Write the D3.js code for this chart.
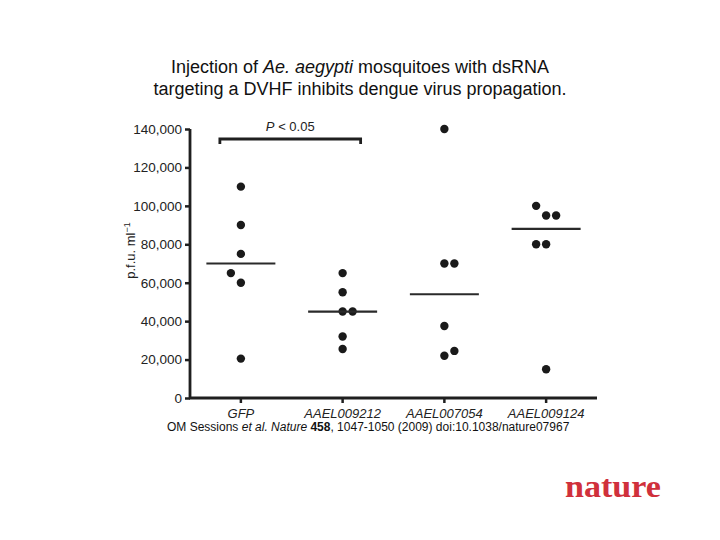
<!DOCTYPE html>
<html>
<head>
<meta charset="utf-8">
<script src="https://cdn.jsdelivr.net/npm/d3@7"></script>
<style>
  html, body { margin: 0; padding: 0; background: #fff; }
  svg { display: block; }
</style>
</head>
<body>
<svg id="chart" width="720" height="540"></svg>
<script>
// ---- data ----
const categories = ["GFP", "AAEL009212", "AAEL007054", "AAEL009124"];
const gfpValues       = [110000, 90000, 75000, 65000, 60000, 20500];
const gfpSlots        = [0, 0, 0, -1, 0, 0];
const aael009212Values = [65000, 55000, 45000, 45000, 32000, 25500];
const aael009212Slots  = [0, 0, 0, 1, 0, 0];
const aael007054Values = [140000, 70000, 70000, 37500, 22000, 24500];
const aael007054Slots  = [0, 0, 1, 0, 0, 1];
const aael009124Values = [100000, 95000, 95000, 80000, 80000, 15000];
const aael009124Slots  = [-1, 0, 1, -1, 0, 0];
const medians = [70000, 45000, 54000, 88000];
const yTicks = [0, 20000, 40000, 60000, 80000, 100000, 120000, 140000];
const seriesValues = [gfpValues, aael009212Values, aael007054Values, aael009124Values];
const seriesSlots = [gfpSlots, aael009212Slots, aael007054Slots, aael009124Slots];

// ---- layout ----
const svg = d3.select("#chart");
const font = "Liberation Sans, Arial, Helvetica, sans-serif";
const ink = "#1f1f1f";

const x = d3.scaleBand().domain(categories).range([190, 597]).paddingInner(0).paddingOuter(0);
const y = d3.scaleLinear().domain([0, 140000]).range([398, 129]);
const slotGap = 10;

// Title
const title = svg.append("text").attr("x", 360).attr("text-anchor", "middle")
  .attr("font-family", font).attr("font-size", 18).attr("fill", "#111");
const t1 = title.append("tspan").attr("x", 360).attr("y", 73);
t1.append("tspan").text("Injection of ");
t1.append("tspan").attr("font-style", "italic").text("Ae. aegypti");
t1.append("tspan").text(" mosquitoes with dsRNA");
title.append("tspan").attr("x", 360).attr("y", 95)
  .text("targeting a DVHF inhibits dengue virus propagation.");

// Y axis
const yAxis = svg.append("g").attr("transform", "translate(190,0)")
  .call(d3.axisLeft(y).tickValues(yTicks).tickSize(5).tickPadding(3)
    .tickFormat(d3.format(",")));
yAxis.select(".domain").attr("stroke", ink).attr("stroke-width", 2.8)
  .attr("d", `M0,${y(140000)}V${y(0)}`);
yAxis.selectAll(".tick line").attr("stroke", ink).attr("stroke-width", 2.5);
yAxis.selectAll(".tick text").attr("font-family", font).attr("font-size", 13.5)
  .attr("fill", "#222");

// X axis
const xAxis = svg.append("g").attr("transform", `translate(0,${y(0)})`)
  .call(d3.axisBottom(x).tickSize(5).tickPadding(6));
xAxis.select(".domain").attr("stroke", ink).attr("stroke-width", 2.8)
  .attr("d", `M189,0H597`);
xAxis.selectAll(".tick line").attr("stroke", ink).attr("stroke-width", 2.5);
xAxis.selectAll(".tick text").attr("font-family", font).attr("font-size", 13)
  .attr("font-style", "italic").attr("fill", "#222");

// Y axis label
const yl = svg.append("text")
  .attr("transform", `translate(135,${(y(0)+y(140000))/2 - 13}) rotate(-90)`)
  .attr("text-anchor", "middle").attr("font-family", font).attr("font-size", 13)
  .attr("fill", "#222");
yl.append("tspan").text("p.f.u. ml");
yl.append("tspan").attr("font-size", 9).attr("dy", -5).text("\u22121");

// Points
const pts = [];
categories.forEach((c, i) => {
  seriesValues[i].forEach((v, j) => pts.push({ c, v, s: seriesSlots[i][j] }));
});
svg.append("g").selectAll("circle").data(pts).join("circle")
  .attr("cx", d => x(d.c) + x.bandwidth() / 2 + d.s * slotGap)
  .attr("cy", d => y(d.v))
  .attr("r", 4.2)
  .attr("fill", "#1a1a1a");

// Median lines
svg.append("g").selectAll("line").data(categories).join("line")
  .attr("x1", d => x(d) + x.bandwidth() / 2 - 34.5)
  .attr("x2", d => x(d) + x.bandwidth() / 2 + 34.5)
  .attr("y1", (d, i) => y(medians[i]))
  .attr("y2", (d, i) => y(medians[i]))
  .attr("stroke", "#2a2a2a").attr("stroke-width", 2.2);

// Significance bracket
const bx1 = x("GFP") + x.bandwidth() / 2 - 21;
const bx2 = x("AAEL009212") + x.bandwidth() / 2 + 18;
const by = 139;
svg.append("path")
  .attr("d", `M${bx1},${by + 5}V${by}H${bx2}V${by + 5}`)
  .attr("fill", "none").attr("stroke", ink).attr("stroke-width", 2.8);
const pt = svg.append("text").attr("x", (bx1 + bx2) / 2).attr("y", 131)
  .attr("text-anchor", "middle").attr("font-family", font).attr("font-size", 13)
  .attr("fill", "#222");
pt.append("tspan").attr("font-style", "italic").text("P");
pt.append("tspan").text(" < 0.05");

// Caption
const cap = svg.append("text").attr("x", 167).attr("y", 431)
  .attr("font-family", font).attr("font-size", 12).attr("fill", "#111");
cap.append("tspan").text("OM Sessions ");
cap.append("tspan").attr("font-style", "italic").text("et al. Nature");
cap.append("tspan").text(" ");
cap.append("tspan").attr("font-weight", "bold").text("458");
cap.append("tspan").text(", 1047-1050 (2009) doi:10.1038/nature07967");

// Nature logo
svg.append("text").attr("x", 565).attr("y", 497)
  .attr("font-family", "Liberation Serif, Times New Roman, serif")
  .attr("font-size", 31).attr("font-weight", "bold").attr("fill", "#d0303b")
  .attr("textLength", 96).attr("lengthAdjust", "spacingAndGlyphs")
  .text("nature");
</script>
</body>
</html>
